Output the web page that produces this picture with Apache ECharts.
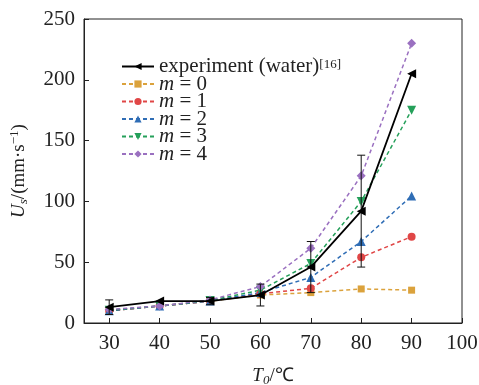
<!DOCTYPE html>
<html>
<head>
<meta charset="utf-8">
<script src="https://cdn.jsdelivr.net/npm/echarts@6/dist/echarts.min.js"></script>
<style>
  html, body { margin: 0; padding: 0; background: #fff; }
  #main { width: 479px; height: 385px; }
</style>
</head>
<body>
<div id="main"></div>
<script>
// temperatures T0 (℃)
var temps = [30, 40, 50, 60, 70, 80, 90];
var xTicks = [30, 40, 50, 60, 70, 80, 90, 100];

// experiment (water) and its error half-widths
var expData = [13, 18, 18, 23, 46, 92, 205];
var expErr = [6, 0, 3, 9, 21, 46, 0];

// simulation, m = 0..4
var m0 = [10, 14, 18, 23, 25, 28, 27];
var m1 = [10, 14, 18, 24, 28.5, 54, 71];
var m2 = [10, 14, 18, 25, 37.5, 67, 104.5];
var m3 = [10.5, 14, 18.5, 27, 49, 100, 175];
var m4 = [11, 14, 19, 30, 61.5, 121, 230];

var serif = 'Liberation Serif';
var txt = '#222';

function pairs(vals) {
  return temps.map(function (t, i) { return [t, vals[i]]; });
}

var mSeries = [
  { name: 'm0', data: m0, color: '#dba23c', symbol: 'rect', size: 7 },
  { name: 'm1', data: m1, color: '#e04646', symbol: 'circle', size: 8 },
  { name: 'm2', data: m2, color: '#2f6db5', symbol: 'triangle', size: 9 },
  { name: 'm3', data: m3, color: '#25a05a', symbol: 'triangle', size: 9, rotate: 180 },
  { name: 'm4', data: m4, color: '#9a70c0', symbol: 'diamond', size: 9 }
];

var series = [];

// error bars on the experiment points
series.push({
  type: 'custom',
  name: 'err',
  z: 3,
  data: temps.map(function (t, i) { return [t, expData[i] - expErr[i], expData[i] + expErr[i]]; })
    .filter(function (d, i) { return expErr[i] > 0; }),
  renderItem: function (params, api) {
    var lo = api.coord([api.value(0), api.value(1)]);
    var hi = api.coord([api.value(0), api.value(2)]);
    var w = 4;
    var st = { stroke: '#111', lineWidth: 1 };
    return {
      type: 'group',
      children: [
        { type: 'line', shape: { x1: lo[0], y1: lo[1], x2: hi[0], y2: hi[1] }, style: st },
        { type: 'line', shape: { x1: lo[0] - w, y1: lo[1], x2: lo[0] + w, y2: lo[1] }, style: st },
        { type: 'line', shape: { x1: hi[0] - w, y1: hi[1], x2: hi[0] + w, y2: hi[1] }, style: st }
      ]
    };
  }
});

mSeries.forEach(function (s) {
  series.push({
    type: 'line',
    name: s.name,
    data: pairs(s.data),
    symbol: s.symbol,
    symbolSize: s.size,
    symbolRotate: s.rotate || 0,
    showAllSymbol: true,
    z: 2,
    itemStyle: { color: s.color },
    lineStyle: { color: s.color, width: 1.5, type: [4, 3] }
  });
});

series.push({
  type: 'line',
  name: 'exp',
  data: pairs(expData),
  symbol: 'triangle',
  symbolSize: 9,
  symbolRotate: 90,
  z: 4,
  itemStyle: { color: '#000' },
  lineStyle: { color: '#000', width: 1.8 }
});

var legendNames = {
  exp: 'experiment (water){sup|[16]}',
  m0: '{i|m} = 0', m1: '{i|m} = 1', m2: '{i|m} = 2', m3: '{i|m} = 3', m4: '{i|m} = 4'
};

var chart = echarts.init(document.getElementById('main'));
chart.setOption({
  animation: false,
  backgroundColor: '#fff',
  grid: {
    left: 84, right: 17, top: 19, bottom: 62,
    show: true, borderColor: '#222', borderWidth: 1,
    outerBoundsMode: 'none'
  },
  legend: {
    data: ['exp', 'm0', 'm1', 'm2', 'm3', 'm4'],
    orient: 'vertical',
    left: 116, top: 51,
    itemWidth: 32, itemHeight: 9,
    itemGap: -3.5,
    formatter: function (n) { return legendNames[n]; },
    textStyle: {
      fontFamily: serif, fontSize: 21, lineHeight: 17.5, color: txt,
      rich: {
        i: { fontFamily: serif, fontSize: 21, lineHeight: 17.5, fontStyle: 'italic', color: txt },
        sup: { fontFamily: serif, fontSize: 13, lineHeight: 10, color: txt, verticalAlign: 'top' }
      }
    }
  },
  xAxis: {
    type: 'value',
    min: 25, max: 100,
    name: '{i|T}{sub|0}/℃',
    nameLocation: 'middle',
    nameGap: 42,
    nameTextStyle: {
      fontFamily: serif, fontSize: 19, color: txt,
      rich: {
        i: { fontFamily: serif, fontSize: 19, fontStyle: 'italic', color: txt },
        sub: { fontFamily: serif, fontSize: 13, fontStyle: 'italic', color: txt, verticalAlign: 'top', padding: [9, 0, 0, 0] }
      }
    },
    axisLine: { show: true, lineStyle: { color: '#222', width: 1 } },
    axisTick: { show: true, inside: true, length: 5, customValues: xTicks, lineStyle: { color: '#222' } },
    axisLabel: { customValues: xTicks, margin: 10, fontFamily: serif, fontSize: 21, color: txt },
    splitLine: { show: false }
  },
  yAxis: {
    type: 'value',
    min: 0, max: 250, interval: 50,
    name: '{i|U}{sub|s}/(mm·s{sup|−1})',
    nameLocation: 'middle',
    nameGap: 54,
    nameRotate: 90,
    nameTextStyle: {
      fontFamily: serif, fontSize: 19, color: txt,
      rich: {
        i: { fontFamily: serif, fontSize: 19, fontStyle: 'italic', color: txt },
        sub: { fontFamily: serif, fontSize: 13, fontStyle: 'italic', color: txt, verticalAlign: 'top', padding: [9, 0, 0, 0] },
        sup: { fontFamily: serif, fontSize: 13, color: txt, verticalAlign: 'bottom', padding: [0, 0, 9, 0] }
      }
    },
    axisLine: { show: true, lineStyle: { color: '#222', width: 1 } },
    axisTick: { show: true, inside: true, length: 5, lineStyle: { color: '#222' } },
    axisLabel: { margin: 9, fontFamily: serif, fontSize: 21, color: txt },
    splitLine: { show: false }
  },
  series: series
});
</script>
</body>
</html>
